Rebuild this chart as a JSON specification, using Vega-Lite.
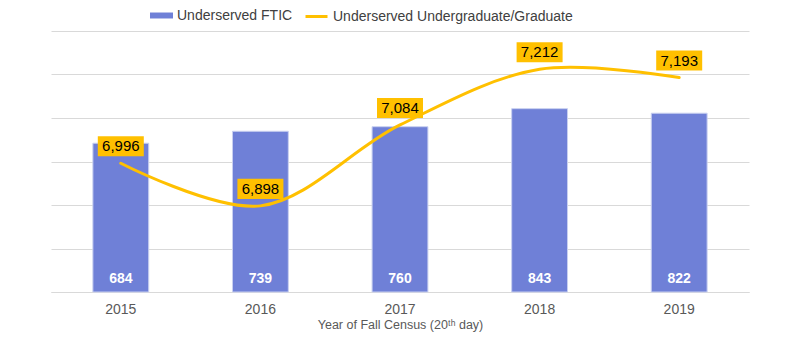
{
  "$schema": "https://vega.github.io/schema/vega-lite/v6.json",
  "autosize": {"type": "none"},
  "width": 698,
  "height": 261,
  "padding": {"left": 51, "top": 31, "right": 51, "bottom": 71},
  "background": "white",
  "config": {
    "font": "Liberation Sans",
    "view": {"stroke": null},
    "legend": {
      "labelFontSize": 14,
      "labelColor": "#404040",
      "labelOffset": 4,
      "labelLimit": 500,
      "orient": "none",
      "direction": "horizontal"
    }
  },
  "data": {
    "values": [
      {"year": "2015", "ftic": 684, "total": 6996},
      {"year": "2016", "ftic": 739, "total": 6898},
      {"year": "2017", "ftic": 760, "total": 7084},
      {"year": "2018", "ftic": 843, "total": 7212},
      {"year": "2019", "ftic": 822, "total": 7193}
    ]
  },
  "encoding": {
    "x": {
      "field": "year",
      "type": "nominal",
      "sort": null,
      "scale": {"paddingInner": 0.6, "paddingOuter": 0.3},
      "axis": {
        "title": "Year of Fall Census (20ᵗʰ day)",
        "labelAngle": 0,
        "labelFontSize": 14,
        "labelColor": "#595959",
        "labelPadding": 10,
        "ticks": false,
        "domain": true,
        "domainColor": "#D9D9D9",
        "titleFontSize": 12.5,
        "titleFontWeight": "normal",
        "titleColor": "#595959",
        "titlePadding": 2
      }
    }
  },
  "layer": [
    {
      "encoding": {
        "y": {
          "field": "ftic",
          "type": "quantitative",
          "scale": {"domain": [0, 1200], "nice": false},
          "axis": {
            "values": [0, 200, 400, 600, 800, 1000, 1200],
            "labels": false,
            "ticks": false,
            "domain": false,
            "title": null,
            "grid": true,
            "gridColor": "#D9D9D9",
            "gridWidth": 1
          }
        }
      },
      "layer": [
        {
          "mark": {"type": "bar", "stroke": "#C9D0F0", "strokeWidth": 1},
          "encoding": {
            "fill": {
              "datum": "Underserved FTIC",
              "scale": {"domain": ["Underserved FTIC"], "range": ["#6F80D7"]},
              "legend": {
                "title": null,
                "legendX": 99,
                "legendY": -27,
                "symbolType": "M-1,-0.26L1,-0.26L1,0.26L-1,0.26Z",
                "symbolSize": 529,
                "symbolStrokeWidth": 0,
                "symbolOpacity": 1
              }
            }
          }
        },
        {
          "mark": {
            "type": "text",
            "color": "white",
            "fontWeight": "bold",
            "fontSize": 14,
            "baseline": "middle",
            "yOffset": -13
          },
          "encoding": {
            "y": {"datum": 0, "type": "quantitative"},
            "text": {"field": "ftic", "type": "quantitative", "format": ","}
          }
        }
      ]
    },
    {
      "encoding": {
        "y": {
          "field": "total",
          "type": "quantitative",
          "scale": {"domain": [6700, 7300], "nice": false},
          "axis": null
        }
      },
      "layer": [
        {
          "mark": {"type": "line", "interpolate": "catmull-rom", "strokeWidth": 3, "strokeCap": "round"},
          "encoding": {
            "stroke": {
              "datum": "Underserved Undergraduate/Graduate",
              "scale": {"domain": ["Underserved Undergraduate/Graduate"], "range": ["#FFC000"]},
              "legend": {
                "title": null,
                "legendX": 253,
                "legendY": -27,
                "symbolType": "stroke",
                "symbolSize": 484,
                "symbolStrokeWidth": 3,
                "symbolOpacity": 1
              }
            }
          }
        },
        {
          "mark": {
            "type": "point",
            "shape": "M-1,-0.435L1,-0.435L1,0.435L-1,0.435Z",
            "size": 2116,
            "filled": true,
            "color": "#FFC000",
            "opacity": 1,
            "yOffset": -17
          }
        },
        {
          "mark": {
            "type": "text",
            "color": "#000000",
            "fontSize": 15,
            "baseline": "middle",
            "yOffset": -17
          },
          "encoding": {
            "text": {"field": "total", "type": "quantitative", "format": ","}
          }
        }
      ]
    }
  ],
  "resolve": {"scale": {"y": "independent"}}
}
